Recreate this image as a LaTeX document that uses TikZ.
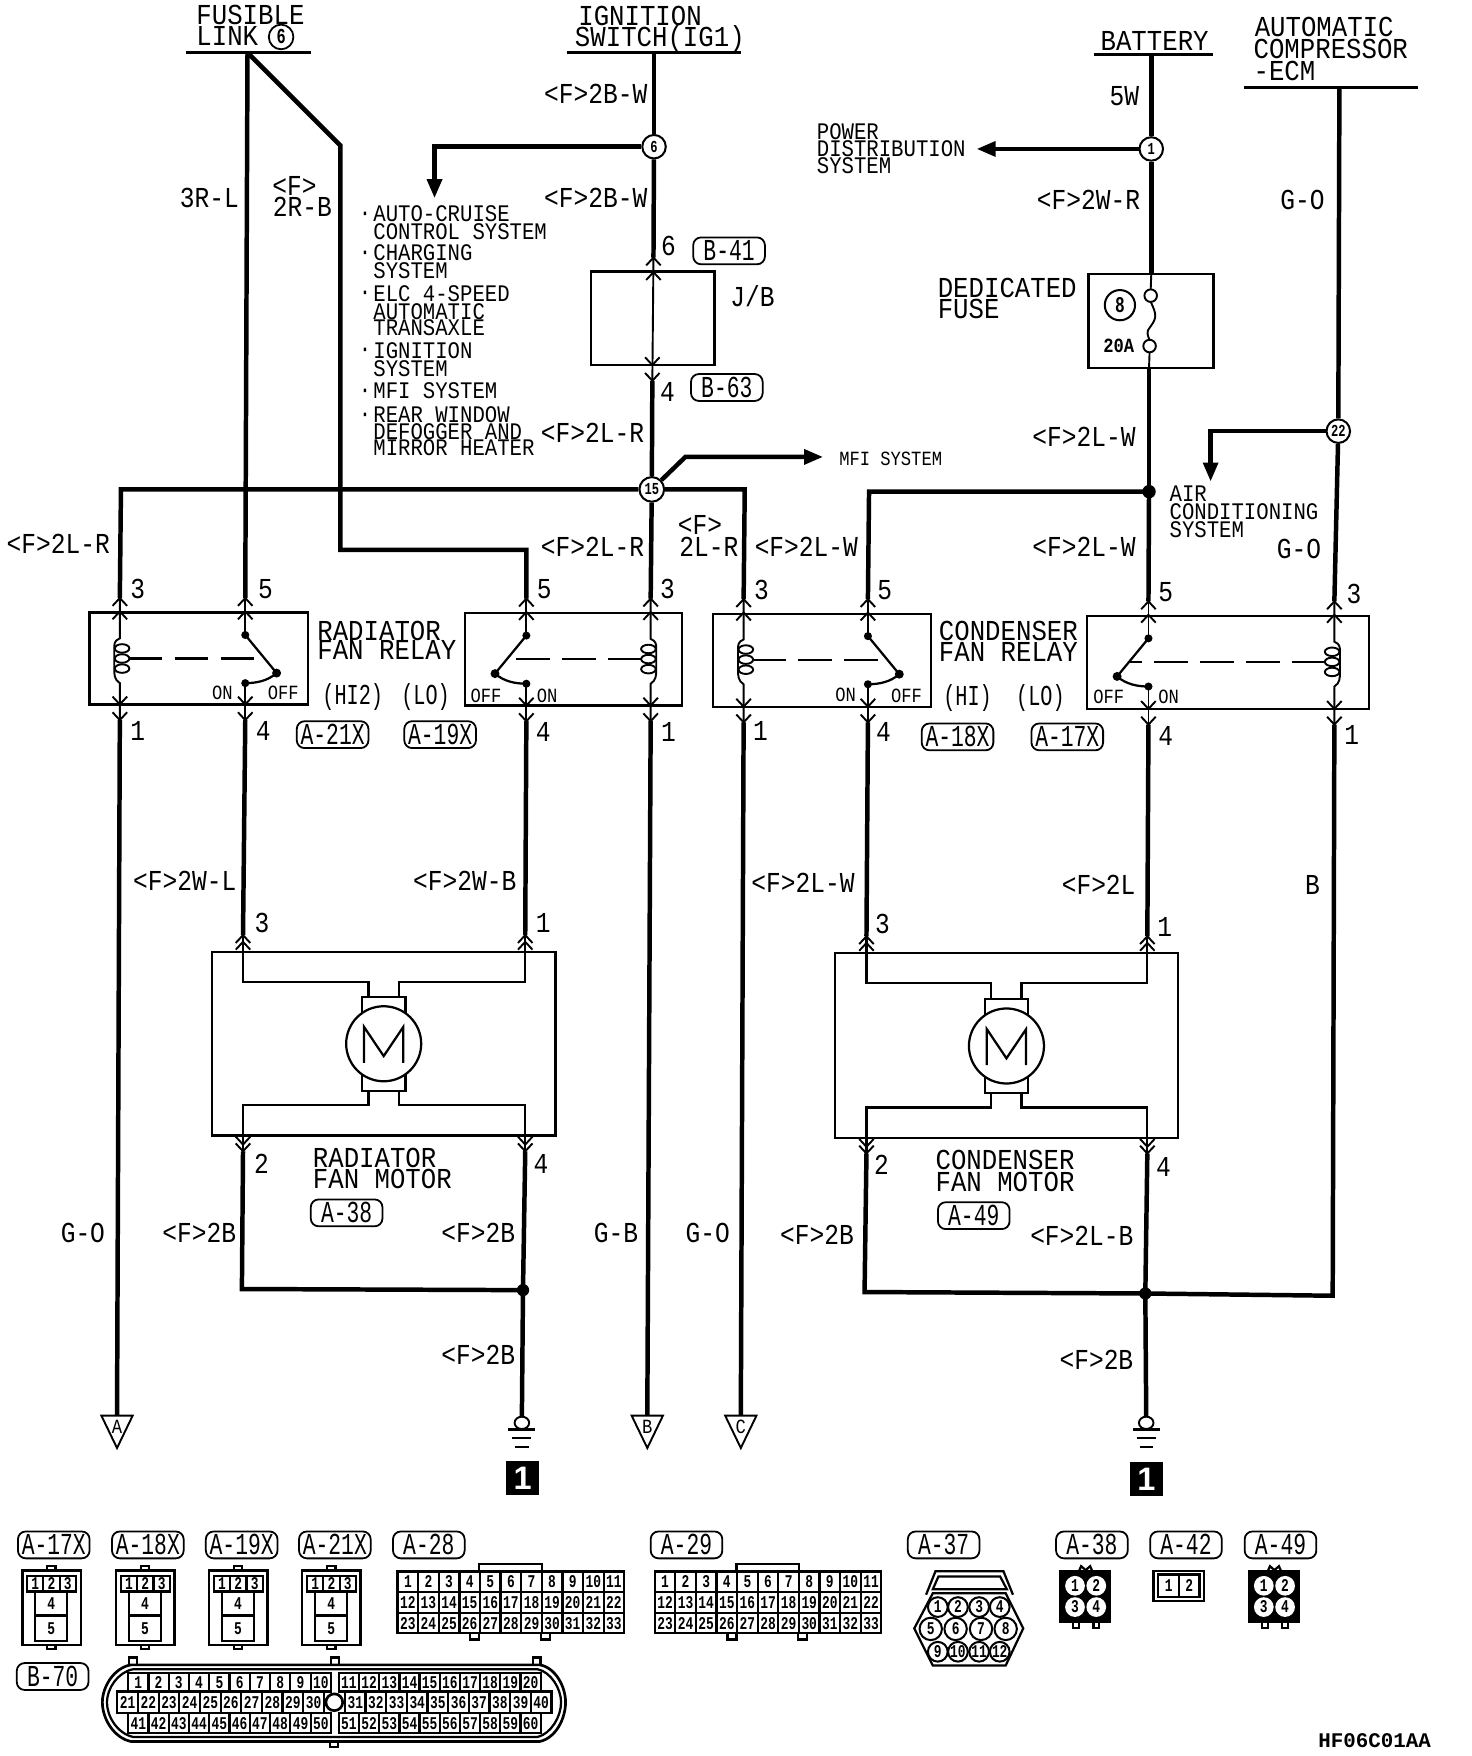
\documentclass[tikz,border=0pt]{standalone}
\usepackage{fontspec}
\usetikzlibrary{arrows.meta,shapes.geometric}
\newfontfamily\wfont[FakeStretch=0.85]{Liberation Mono}
\newfontfamily\nfont[FakeStretch=0.89]{Liberation Mono}
\newfontfamily\sfont[FakeStretch=0.87]{Liberation Mono}
\newfontfamily\bfont[FakeStretch=0.7]{Liberation Mono}
\newfontfamily\cfont[FakeStretch=0.72]{Liberation Mono}
\newfontfamily\pfont{Liberation Mono}
\newfontfamily\hfont{Liberation Sans}
\newcounter{tc}
\newcommand\TX[4]{\stepcounter{tc}\node[#1] (t\arabic{tc}) at (#2,#3) {#4};}
\tikzset{
  lab/.style={inner sep=0pt,text height=8.5pt,text depth=0pt,font=\wfont\fontsize{12.9}{12.9}\selectfont},
  nm/.style={inner sep=0pt,text height=8.5pt,text depth=0pt,font=\nfont\fontsize{12.9}{12.9}\selectfont},
  nr/.style={inner sep=0pt,text height=8.5pt,text depth=0pt,font=\bfont\fontsize{12.9}{12.9}\selectfont},
  sm/.style={inner sep=0pt,text height=7pt,text depth=0pt,font=\sfont\fontsize{10.6}{10.6}\selectfont},
  tn/.style={inner sep=0pt,text height=6pt,text depth=0pt,font=\wfont\fontsize{9}{9}\selectfont},
  cd/.style={inner sep=0pt,text height=5.2pt,text depth=0pt,font=\cfont\bfseries\fontsize{8}{8}\selectfont},
  badge/.style={draw,line width=.8pt,rounded corners=3.5pt,minimum width=32pt,minimum height=12pt,inner sep=0pt,text height=9pt,text depth=0pt,font=\bfont\fontsize{13.6}{13.6}\selectfont},
  splice/.style={circle,draw,fill=white,line width=.9pt,minimum size=10.5pt,inner sep=0pt,font=\cfont\bfseries\fontsize{7.5}{7.5}\selectfont},
  wire/.style={line width=2pt,line join=miter},
  thinw/.style={line width=.85pt},
  lev/.style={line width=1pt},
  boxl/.style={line width=1pt},
  cbox/.style={line width=1pt},
  dashl/.style={line width=1pt,dash pattern=on 15pt off 5.5pt},
  arw/.style={wire,-{Triangle[length=8.5pt,width=6.5pt]}},
  gsq/.style={fill=black,minimum width=14.7pt,minimum height=15pt,inner sep=0pt,text=white,font=\hfont\bfseries\fontsize{14.5}{14.5}\selectfont}
}
\newcommand\chevU[2]{\draw[thinw] ({#1-6.5},{#2+7}) -- (#1,#2) -- ({#1+6.5},{#2+7});}
\newcommand\chevD[2]{\draw[thinw] ({#1-6.5},{#2-7}) -- (#1,#2) -- ({#1+6.5},{#2-7});}
\newcommand\relay[8]{%
  \draw[boxl] (#2,#4) rectangle (#3,#5);
  \coordinate (#1cT) at (#6,{#4-13}); \coordinate (#1cB) at (#6,{#5+14});
  \coordinate (#1sT) at (#7,{#4-13}); \coordinate (#1sB) at (#7,{#5+14});
  \chevU{#6}{#4-13}\chevU{#6}{#4-1}\chevU{#7}{#4-13}\chevU{#7}{#4-1}
  \chevD{#6}{#5}\chevD{#6}{#5+14}\chevD{#7}{#5}\chevD{#7}{#5+14}
  \draw[thinw] (#1cT) -- (#6,{#4+23}) .. controls ({#6-5*#8},{#4+25}) and ({#6-5*#8},{#4+28}) .. ({#6-5*#8},{#4+32}) -- ({#6-5*#8},{#4+50}) .. controls ({#6-5*#8},{#4+55}) and ({#6-5*#8},{#4+60}) .. (#6,{#4+63}) -- (#1cB);
  \foreach \ee in {32,41,50} {\draw[thinw,fill=white] ({#6+2*#8},{#4+\ee}) ellipse [x radius=6.5,y radius=3.8];}
  \draw[thinw] (#1sT) -- (#7,{#4+20});
  \draw[lev] (#7,{#4+20}) -- ({#7+28*#8},{#4+54}) .. controls ({#7+20*#8},{#4+61}) and ({#7+10*#8},{#4+63}) .. (#7,{#4+63});
  \draw[thinw] (#7,{#4+63}) -- (#1sB);
  \draw[dashl] ({#6+8*#8},{#4+41}) -- ({#7+18*#8},{#4+41});
  \fill (#7,{#4+20}) circle [radius=3.6];
  \fill ({#7+28*#8},{#4+54}) circle [radius=4];
  \fill (#7,{#4+63}) circle [radius=3.6];
}
\newcommand\motor[9]{% name xl xr yt yb cx cy wl wr
  \draw[boxl] (#2,#4) rectangle (#3,#5);
  \coordinate (#1lT) at (#8,{#4-15}); \coordinate (#1rT) at (#9,{#4-15});
  \coordinate (#1lB) at (#8,{#5+14}); \coordinate (#1rB) at (#9,{#5+14});
  \chevU{#8}{#4-15}\chevU{#8}{#4-9}\chevU{#9}{#4-15}\chevU{#9}{#4-9}
  \chevD{#8}{#5+8}\chevD{#8}{#5+14}\chevD{#9}{#5+8}\chevD{#9}{#5+14}
  \draw[boxl] (#1lT) -- (#8,{#4+27}) -- ({#6-13.5},{#4+27}) -- ({#6-13.5},{#7-42});
  \draw[boxl] (#1rT) -- (#9,{#4+27}) -- ({#6+13.5},{#4+27}) -- ({#6+13.5},{#7-42});
  \draw[boxl] ({#6-19.5},{#7-25}) -- ({#6-19.5},{#7-42}) -- ({#6+19.5},{#7-42}) -- ({#6+19.5},{#7-25});
  \draw[boxl] ({#6-19.5},{#7+25}) -- ({#6-19.5},{#7+42}) -- ({#6+19.5},{#7+42}) -- ({#6+19.5},{#7+25});
  \draw[boxl] (#1lB) -- (#8,{#7+55}) -- ({#6-13.5},{#7+55}) -- ({#6-13.5},{#7+42});
  \draw[boxl] (#1rB) -- (#9,{#7+55}) -- ({#6+13.5},{#7+55}) -- ({#6+13.5},{#7+42});
  \draw[boxl,fill=white] (#6,#7) circle [radius=33.5];
  \draw[boxl,line join=miter] ({#6-17.5},{#7+17}) -- ({#6-17.5},{#7-15}) -- (#6,{#7+11}) -- ({#6+17.5},{#7-15}) -- ({#6+17.5},{#7+17});
}
\newcommand\tri[3]{\coordinate (#1) at (#2,1264);
  \draw[thinw] ({#2-14},1264) -- ({#2+14},1264) -- (#2,1293) -- cycle;
  \TX{tn}{#2}{1274}{#3}}
\newcommand\gnd[2]{\coordinate (#1) at (#2,1265);
  \draw[thinw] (#2,1270.5) ellipse [x radius=6.5,y radius=5.5];
  \draw[lev] ({#2-12},1276.5) -- ({#2+12},1276.5);
  \draw[thinw] ({#2-8.5},1284) -- ({#2+8.5},1284);
  \draw[lev] ({#2-6},1292) -- ({#2+6},1292);}
\newcommand\smallconn[2]{% name dx
  \begin{scope}[xshift=#2*.5pt]
  \draw[cbox] (20,1402.4) rectangle (72,1469);
  \draw[cbox] (42,1402.4) -- (42,1398.6) -- (49.5,1398.6) -- (49.5,1402.4);
  \draw[cbox] (42,1469) -- (42,1472.5) -- (49.5,1472.5) -- (49.5,1469);
  \draw[cbox] (24,1407) rectangle (68,1421);
  \draw[cbox] (38.7,1407) -- (38.7,1421) (53.3,1407) -- (53.3,1421);
  \draw[cbox] (31.4,1421) -- (31.4,1465) -- (60,1465) -- (60,1421) (31.4,1442.5) -- (60,1442.5);
  \TX{cd}{31.4}{1414}{1}\TX{cd}{46}{1414}{2}\TX{cd}{60.6}{1414}{3}
  \TX{cd}{45.7}{1432}{4}\TX{cd}{45.7}{1454}{5}
  \end{scope}}
\newcommand\gridconn[2]{% name x0
  \draw[cbox] (#2,1403.3) rectangle ({#2+202.4},1458.3);
  \draw[cbox] ({#2+73},1403.3) -- ({#2+73},1396.4) -- ({#2+129},1396.4) -- ({#2+129},1403.3);
  \draw[cbox] ({#2+65},1458.3) -- ({#2+65},1464) -- ({#2+73},1464) -- ({#2+73},1458.3);
  \draw[cbox] ({#2+128},1458.3) -- ({#2+128},1464) -- ({#2+136},1464) -- ({#2+136},1458.3);
  \draw[cbox] (#2,1421.8) -- ({#2+202.4},1421.8) (#2,1440.5) -- ({#2+202.4},1440.5);
  \foreach \kk in {1,...,10} {\draw[cbox] ({#2+\kk*18.4},1403.3) -- ({#2+\kk*18.4},1458.3);}
  \foreach \ii in {1,...,33} {%
    \pgfmathsetmacro\cc{mod(\ii-1,11)}\pgfmathsetmacro\rr{floor((\ii-1)/11)}%
    \node[cd] (#1c\ii) at ({#2+(\cc+.5)*18.4},{1412.6+\rr*18.4}) {\ii};}
}
\newcommand\fourconn[2]{% name x0
  \draw[cbox,fill=black] (#2,1403) rectangle ({#2+45},1448.5);
  \draw[cbox] ({#2+17},1403) -- ({#2+19},1398.5) -- ({#2+23},1402) -- ({#2+27},1398.5) -- ({#2+29},1403);
  \draw[cbox] ({#2+12},1448.5) -- ({#2+12},1454) -- ({#2+17},1454) -- ({#2+17},1448.5);
  \draw[cbox] ({#2+30},1448.5) -- ({#2+30},1454) -- ({#2+35},1454) -- ({#2+35},1448.5);
  \foreach \nn/\xx/\yy in {1/13.5/1416,2/32.5/1416,3/13.5/1435,4/32.5/1435} {%
    \fill[white] ({#2+\xx},\yy) circle [radius=8.8];
    \node[cd] (#1c\nn) at ({#2+\xx},\yy) {\nn};}
}
\begin{document}
\begin{tikzpicture}[x=.5pt,y=-.5pt]
\useasboundingbox (0,0) rectangle (1314.3,1568);
% ---------- bars and named points
\coordinate (flL) at (166,47); \coordinate (flR) at (278,47); \coordinate (fl) at (221,47);
\coordinate (igL) at (506,47); \coordinate (igR) at (662,47); \coordinate (ig) at (584,47);
\coordinate (baL) at (977,49); \coordinate (baR) at (1083,49); \coordinate (ba) at (1028,49);
\coordinate (acL) at (1111,78); \coordinate (acR) at (1266,78); \coordinate (ac) at (1196,78);
\draw[line width=1.3pt] (flL) -- (flR);
\draw[line width=1.3pt] (igL) -- (igR);
\draw[line width=1.3pt] (baL) -- (baR);
\draw[line width=1.3pt] (acL) -- (acR);
% ---------- relays and motors
\relay{ra}{80}{275}{547}{629}{107}{219}{1}
\relay{rb}{415}{609}{547.5}{630}{581}{470}{-1}
\relay{rc}{636.5}{831}{548}{631}{664}{775}{1}
\relay{rd}{970.5}{1222.5}{550}{633}{1191.5}{1025.5}{-1}
\motor{ma}{189.5}{496}{850}{1014}{342.6}{932}{217}{469}
\motor{mb}{745.4}{1052}{851}{1016}{898.7}{934}{773.7}{1024.5}
% ---------- splices
\node[splice] (s6) at (584,131) {6};
\node[splice] (s1) at (1028,133) {1};
\node[splice,minimum size=11pt] (s15) at (582,437) {15};
\node[splice] (s22) at (1195,385) {22};
\node[circle,draw,line width=.8pt,minimum size=11pt,inner sep=0pt,font=\cfont\bfseries\fontsize{9.5}{9.5}\selectfont] (c6) at (251,33) {6};
% ---------- J/B and fuse
\draw[boxl] (527.5,242.5) rectangle (638,326);
\coordinate (jbT) at (583.5,230); \coordinate (jbB) at (582.5,340);
\draw[thinw] (jbT) -- (jbB);
\chevU{583.5}{230}\chevU{583.5}{243}\chevD{582.5}{326}\chevD{582.5}{340}
\draw[boxl] (972,245) rectangle (1083.5,328.5);
\coordinate (fuT) at (1028,245); \coordinate (fuB) at (1026,328.5);
\coordinate (fu1) at (1027.5,264); \coordinate (fu2) at (1026.5,309);
\draw[thinw] (fuT) -- (1027.5,258.5);
\draw[thinw] (1026.5,314.5) -- (fuB);
\draw[thinw] (fu1) circle [radius=5.6];
\draw[thinw] (fu2) circle [radius=5.6];
\draw[thinw] (1027.5,269.5) .. controls (1033,281) and (1033,284) .. (1027,292) .. controls (1023,296) and (1025,300) .. (1026.5,303.5);
\node[splice,minimum size=13.5pt,font=\cfont\bfseries\fontsize{10}{10}\selectfont] (f8) at (1000,272.5) {8};
% ---------- points for wires
\coordinate (k2r) at (304,130); \coordinate (k2d) at (304,491); \coordinate (k2e) at (470,491);
\coordinate (k6) at (388,131); \coordinate (a6) at (388,177);
\coordinate (a1) at (872,133);
\coordinate (kL) at (108,437); \coordinate (kR) at (665,437);
\coordinate (kM) at (612,408); \coordinate (aM) at (735,408);
\coordinate (dW) at (1026,439); \coordinate (kW) at (776,439);
\coordinate (k22) at (1081,385); \coordinate (a22) at (1081,430);
\coordinate (dA) at (467,1152); \coordinate (kA) at (216,1151);
\coordinate (dB) at (1022.7,1155); \coordinate (kB) at (772,1153.7); \coordinate (kC) at (1190,1157);
\tri{tA}{104.5}{A}
\tri{tB}{578}{B}
\tri{tC}{661.5}{C}
\gnd{gA}{466}
\gnd{gB}{1023.5}
% ---------- wires
\draw[wire] (fl) -- (rasT);
\draw[wire] (fl) -- (k2r) -- (k2d) -- (k2e) -- (rbsT);
\draw[wire] (ig) -- (s6);
\draw[wire] (s6) -- (jbT);
\draw[wire] (jbB) -- (s15);
\draw[wire] (s15) -- (rbcT);
\draw[arw] (s6) -- (k6) -- (a6);
\draw[wire] (ba) -- (s1);
\draw[arw] (s1) -- (a1);
\draw[wire] (s1) -- (fuT);
\draw[wire] (fuB) -- (dW);
\draw[wire] (dW) -- (rdsT);
\draw[wire] (dW) -- (kW) -- (rcsT);
\draw[wire] (s15) -- (kL) -- (racT);
\draw[wire] (s15) -- (kR) -- (rccT);
\draw[arw] (s15) -- (kM) -- (aM);
\draw[wire] (ac) -- (s22);
\draw[wire] (s22) -- (rdcT);
\draw[arw] (s22) -- (k22) -- (a22);
\draw[wire] (rasB) -- (malT);
\draw[wire] (rbsB) -- (marT);
\draw[wire] (rcsB) -- (mblT);
\draw[wire] (rdsB) -- (mbrT);
\draw[wire] (racB) -- (tA);
\draw[wire] (rbcB) -- (tB);
\draw[wire] (rccB) -- (tC);
\draw[wire] (rdcB) -- (kC) -- (dB);
\draw[wire] (malB) -- (kA) -- (dA);
\draw[wire] (marB) -- (dA);
\draw[wire] (dA) -- (gA);
\draw[wire] (mblB) -- (kB) -- (dB);
\draw[wire] (mbrB) -- (dB);
\draw[wire] (dB) -- (gB);
\fill (dW) circle [radius=6];
\fill (dA) circle [radius=5.5];
\fill (dB) circle [radius=5.5];
% ---------- ground squares
\node[gsq] (sqA) at (466.7,1320) {1};
\node[gsq] (sqB) at (1023.7,1320.5) {1};
% ---------- header text
\TX{nm,anchor=west}{175}{13}{FUSIBLE}
\TX{nm,anchor=west}{175}{32}{LINK}
\TX{nm,anchor=west}{516}{14}{IGNITION}
\TX{nm,anchor=west}{513}{33}{SWITCH(IG1)}
\TX{nm}{1031}{37}{BATTERY}
\TX{nm,anchor=west}{1120}{24}{AUTOMATIC}
\TX{nm,anchor=west}{1119}{44}{COMPRESSOR}
\TX{nm,anchor=west}{1119}{63}{-ECM}
% ---------- wire labels
\TX{lab}{532}{84}{<F>2B-W}
\TX{lab}{532}{177}{<F>2B-W}
\TX{lab}{187}{177}{3R-L}
\TX{lab}{263}{166}{<F>}
\TX{lab}{270}{185}{2R-B}
\TX{lab}{597}{220}{6}
\TX{lab}{596}{350}{4}
\TX{lab}{672}{265}{J/B}
\TX{lab}{529}{387}{<F>2L-R}
\TX{lab}{52}{486}{<F>2L-R}
\TX{lab}{529}{488}{<F>2L-R}
\TX{lab}{625}{469}{<F>}
\TX{lab}{633}{488}{2L-R}
\TX{lab}{720}{488}{<F>2L-W}
\TX{lab}{968}{488}{<F>2L-W}
\TX{lab}{968}{390}{<F>2L-W}
\TX{lab}{1004}{86}{5W}
\TX{lab}{972}{179}{<F>2W-R}
\TX{lab}{1163}{179}{G-O}
\TX{lab}{1160}{490}{G-O}
\TX{lab}{165}{787}{<F>2W-L}
\TX{lab}{415}{787}{<F>2W-B}
\TX{lab}{717}{788}{<F>2L-W}
\TX{lab}{981}{790}{<F>2L}
\TX{lab}{1172}{790}{B}
\TX{lab}{74}{1101}{G-O}
\TX{lab}{178}{1101}{<F>2B}
\TX{lab}{427}{1101}{<F>2B}
\TX{lab}{550}{1101}{G-B}
\TX{lab}{632}{1101}{G-O}
\TX{lab}{729.5}{1103}{<F>2B}
\TX{lab}{966}{1104}{<F>2L-B}
\TX{lab}{427}{1210}{<F>2B}
\TX{lab}{979}{1214}{<F>2B}
% ---------- pin numbers
\TX{lab}{123}{526}{3}\TX{lab}{237}{526}{5}\TX{lab}{486}{526}{5}\TX{lab}{596}{526}{3}
\TX{lab}{680}{527}{3}\TX{lab}{790}{527}{5}\TX{lab}{1041}{529}{5}\TX{lab}{1209}{530}{3}
\TX{lab}{123}{653}{1}\TX{lab}{235}{653}{4}\TX{lab}{485}{654}{4}\TX{lab}{597}{654}{1}
\TX{lab}{679}{653}{1}\TX{lab}{789}{654}{4}\TX{lab}{1041}{657}{4}\TX{lab}{1207}{656}{1}
\TX{lab}{234}{824}{3}\TX{lab}{485}{824}{1}\TX{lab}{788}{825}{3}\TX{lab}{1040}{828}{1}
\TX{lab}{233.5}{1039}{2}\TX{lab}{483}{1039}{4}\TX{lab}{787}{1040}{2}\TX{lab}{1039}{1042}{4}
% ---------- small lists
\foreach \yy in {190,225,260,311,348,369} {\stepcounter{tc}\node[sm] (t\arabic{tc}) at (326,\yy) {·};}
\TX{sm,anchor=west}{333}{191}{AUTO-CRUISE}
\TX{sm,anchor=west}{333}{207}{CONTROL SYSTEM}
\TX{sm,anchor=west}{333}{226}{CHARGING}
\TX{sm,anchor=west}{333}{242}{SYSTEM}
\TX{sm,anchor=west}{333}{262}{ELC 4-SPEED}
\TX{sm,anchor=west}{333}{278}{AUTOMATIC}
\TX{sm,anchor=west}{333}{293}{TRANSAXLE}
\TX{sm,anchor=west}{333}{313}{IGNITION}
\TX{sm,anchor=west}{333}{329}{SYSTEM}
\TX{sm,anchor=west}{333}{349}{MFI SYSTEM}
\TX{sm,anchor=west}{333}{370}{REAR WINDOW}
\TX{sm,anchor=west}{333}{385}{DEFOGGER AND}
\TX{sm,anchor=west}{333}{400}{MIRROR HEATER}
\TX{sm,anchor=west}{729}{118}{POWER}
\TX{sm,anchor=west}{729}{133}{DISTRIBUTION}
\TX{sm,anchor=west}{729}{148}{SYSTEM}
\TX{sm,anchor=west}{1044}{441}{AIR}
\TX{sm,anchor=west}{1044}{457}{CONDITIONING}
\TX{sm,anchor=west}{1044}{473}{SYSTEM}
\TX{tn,anchor=west}{749}{410}{MFI SYSTEM}
\TX{tn,font=\wfont\bfseries\fontsize{9}{9}\selectfont}{999}{309}{20A}
% ---------- relay and motor names
\TX{nm,anchor=west}{283}{563}{RADIATOR}
\TX{nm,anchor=west}{283}{580}{FAN RELAY}
\TX{nr}{315}{621}{(HI2)}
\TX{nr}{380}{621}{(LO)}
\TX{nm,anchor=west}{838}{563.5}{CONDENSER}
\TX{nm,anchor=west}{838}{582}{FAN RELAY}
\TX{nr}{864}{621.5}{(HI)}
\TX{nr}{929}{621.5}{(LO)}
\TX{nm,anchor=west}{837}{257}{DEDICATED}
\TX{nm,anchor=west}{837}{276}{FUSE}
\TX{nm,anchor=west}{279}{1034}{RADIATOR}
\TX{nm,anchor=west}{279}{1053}{FAN MOTOR}
\TX{nm,anchor=west}{835}{1036}{CONDENSER}
\TX{nm,anchor=west}{835}{1055.5}{FAN MOTOR}
\TX{tn}{198.5}{619}{ON}\TX{tn}{253}{619}{OFF}
\TX{tn}{434}{621}{OFF}\TX{tn}{488.5}{621}{ON}
\TX{tn}{755}{620.5}{ON}\TX{tn}{809.5}{621}{OFF}
\TX{tn}{990}{622.5}{OFF}\TX{tn}{1043.5}{622}{ON}
% ---------- badges
\node[badge] (bB41) at (651,224) {B-41};
\node[badge] (bB63) at (649,346) {B-63};
\node[badge] (b21a) at (297,656) {A-21X};
\node[badge] (b19a) at (393,656) {A-19X};
\node[badge] (b18a) at (855,658) {A-18X};
\node[badge] (b17a) at (953,658) {A-17X};
\node[badge] (b38a) at (309.5,1083) {A-38};
\node[badge] (b49a) at (869.5,1085.5) {A-49};
\node[badge] (b17) at (48,1379.5) {A-17X};
\node[badge] (b18) at (132,1379.5) {A-18X};
\node[badge] (b19) at (215.8,1379.5) {A-19X};
\node[badge] (b21) at (299,1379.5) {A-21X};
\node[badge] (b28) at (382.9,1379.5) {A-28};
\node[badge] (b29) at (613,1379.5) {A-29};
\node[badge] (b37) at (842.6,1379.5) {A-37};
\node[badge] (b38) at (975,1379.5) {A-38};
\node[badge] (b42) at (1059,1379.5) {A-42};
\node[badge] (b49) at (1143.4,1379.5) {A-49};
\node[badge] (b70) at (47,1497) {B-70};
% ---------- connector pictures
\smallconn{x17}{0}
\smallconn{x18}{83.8}
\smallconn{x19}{166.8}
\smallconn{x21}{250}
\gridconn{g28}{355}
\gridconn{g29}{584.6}
% A-37
\draw[cbox] (826.9,1424) -- (835.3,1403) -- (896,1403) -- (904.5,1424);
\draw[cbox] (833,1419) -- (838,1407.6) -- (893,1407.6) -- (899,1419) -- cycle;
\draw[cbox] (833,1422.6) -- (898,1422.6) -- (913.7,1454) -- (898,1487.2) -- (833,1487.2) -- (816.4,1454) -- cycle;
\foreach \nn/\xx/\yy/\rr in {1/837.4/1435/8.8,2/855.4/1435/8.8,3/874.3/1435/8.8,4/892.7/1435/8.8,5/831.1/1454.5/10,6/853.3/1454.5/10,7/876/1454.5/10,8/898/1454.5/10,9/837.4/1474.9/8.8,10/855.4/1474.9/8.8,11/874.3/1474.9/8.8,12/892.7/1474.9/8.8}{%
  \draw[line width=.9pt,fill=white] (\xx,\yy) circle [radius=\rr];
  \node[cd] (k37c\nn) at (\xx,\yy) {\nn};}
% A-38, A-49
\fourconn{k38}{946.4}
\fourconn{k49}{1115}
% A-42
\draw[cbox] (1030,1403) rectangle (1075,1429.5);
\draw[cbox] (1034,1406) rectangle (1071,1426);
\draw[cbox] (1052.7,1406) -- (1052.7,1426);
\node[cd] (k42c1) at (1043.5,1416) {1};
\node[cd] (k42c2) at (1062,1416) {2};
% B-70
\foreach \tx in {115,295.5,475.7} {\draw[cbox] (\tx,1486.6) -- (\tx,1480) -- ({\tx+7},1480) -- ({\tx+7},1486.6);}
\draw[cbox] (294.6,1555) -- (294.6,1560) -- (301.8,1560) -- (301.8,1555);
\draw[cbox,line width=1.2pt] (117,1486.6) -- (482,1486.6) .. controls (496,1489) and (505,1506) .. (505,1520) .. controls (505,1535) and (496,1552) .. (482,1555) -- (117,1555) .. controls (102,1552) and (91.4,1535) .. (91.4,1520) .. controls (91.4,1506) and (102,1489) .. (117,1486.6) -- cycle;
\draw[cbox] (119,1490.5) -- (480,1490.5) .. controls (492,1493) and (501,1508) .. (501,1520) .. controls (501,1533) and (492,1548) .. (480,1551) -- (119,1551) .. controls (105,1548) and (95.5,1533) .. (95.5,1520) .. controls (95.5,1508) and (105,1493) .. (119,1490.5) -- cycle;
\draw[cbox,fill=white] (114.4,1494) rectangle (295.5,1510.4);
\draw[cbox,fill=white] (302.6,1494) rectangle (482.8,1510.4);
\draw[cbox,fill=white] (114.4,1529.8) rectangle (295.5,1547.6);
\draw[cbox,fill=white] (302.6,1529.8) rectangle (482.8,1547.6);
\draw[cbox,fill=white] (104.8,1510.4) rectangle (289.2,1529.8);
\draw[cbox,fill=white] (308,1510.4) rectangle (492.5,1529.8);
\draw[line width=1.2pt] (298.5,1520) circle [radius=7.5];
\draw[line width=.8pt] (289.2,1520) -- (291,1520) (306,1520) -- (308,1520);
\foreach \kk in {1,...,9} {%
  \draw[cbox] ({114.4+\kk*18.11},1494) -- ({114.4+\kk*18.11},1510.4);
  \draw[cbox] ({302.6+\kk*18.02},1494) -- ({302.6+\kk*18.02},1510.4);
  \draw[cbox] ({114.4+\kk*18.11},1529.8) -- ({114.4+\kk*18.11},1547.6);
  \draw[cbox] ({302.6+\kk*18.02},1529.8) -- ({302.6+\kk*18.02},1547.6);
  \draw[cbox] ({104.8+\kk*18.44},1510.4) -- ({104.8+\kk*18.44},1529.8);
  \draw[cbox] ({308+\kk*18.45},1510.4) -- ({308+\kk*18.45},1529.8);}
\foreach \ii in {1,...,10} {%
  \pgfmathtruncatemacro\aa{\ii}\pgfmathtruncatemacro\bb{\ii+10}\pgfmathtruncatemacro\cc{\ii+20}\pgfmathtruncatemacro\dd{\ii+30}\pgfmathtruncatemacro\ee{\ii+40}\pgfmathtruncatemacro\ff{\ii+50}%
  \node[cd] (k70c\aa) at ({114.4+(\ii-.5)*18.11},1502.5) {\aa};
  \node[cd] (k70c\bb) at ({302.6+(\ii-.5)*18.02},1502.5) {\bb};
  \node[cd] (k70c\cc) at ({104.8+(\ii-.5)*18.44},1520.2) {\cc};
  \node[cd] (k70c\dd) at ({308+(\ii-.5)*18.45},1520.2) {\dd};
  \node[cd] (k70c\ee) at ({114.4+(\ii-.5)*18.11},1538.7) {\ee};
  \node[cd] (k70c\ff) at ({302.6+(\ii-.5)*18.02},1538.7) {\ff};}
\node[inner sep=0pt,text height=5.8pt,text depth=0pt,font=\pfont\bfseries\fontsize{9.3}{9.3}\selectfont] (hf) at (1227.5,1555) {HF06C01AA};
\end{tikzpicture}
\end{document}
